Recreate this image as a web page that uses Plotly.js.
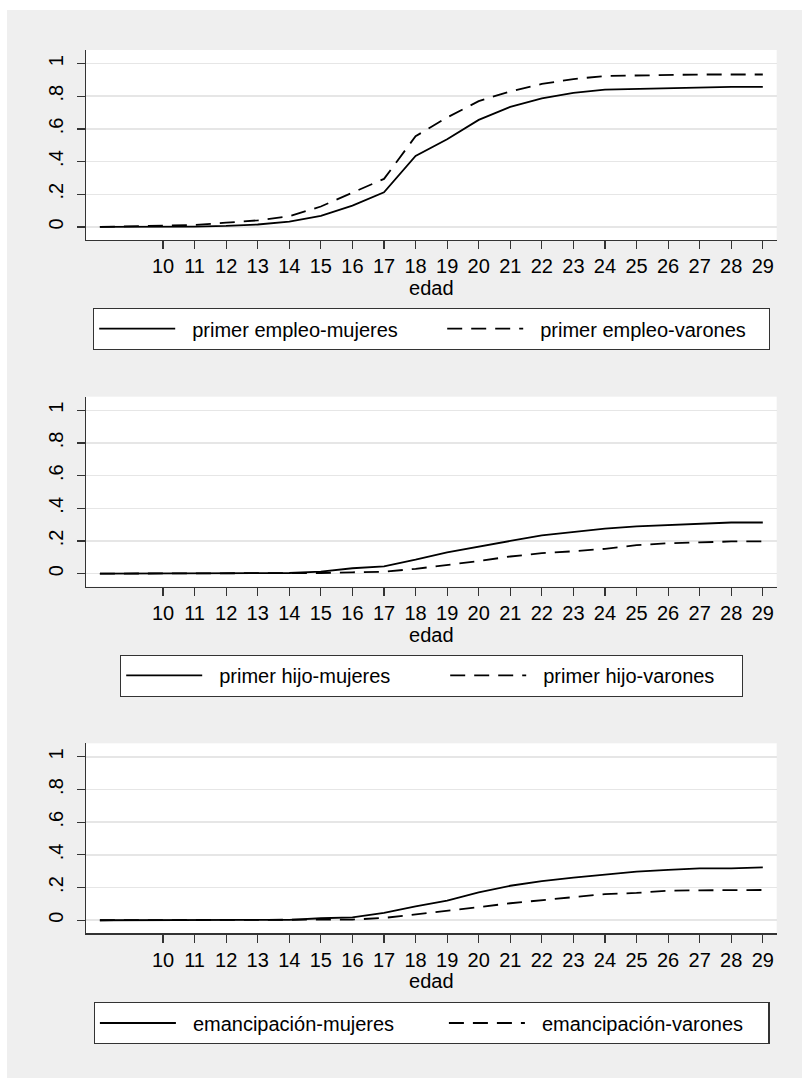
<!DOCTYPE html>
<html>
<head>
<meta charset="utf-8">
<script src="https://cdn.plot.ly/plotly-3.0.1.min.js"></script>
<style>
  html, body { margin: 0; padding: 0; background: #ffffff; }
  #chart { position: absolute; left: 7px; top: 10px; width: 795px; height: 1068px; }
</style>
</head>
<body>
<div id="chart"></div>
<script>
// ---- data ----
const edad = [8, 9, 10, 11, 12, 13, 14, 15, 16, 17, 18, 19, 20, 21, 22, 23, 24, 25, 26, 27, 28, 29];
const xTicks = [10, 11, 12, 13, 14, 15, 16, 17, 18, 19, 20, 21, 22, 23, 24, 25, 26, 27, 28, 29];
const yTickVals = [0, 0.2, 0.4, 0.6, 0.8, 1];
const yTickText = ["0", ".2", ".4", ".6", ".8", "1"];

const empleoMujeres = [0, 0, 0, 0.002, 0.006, 0.015, 0.033, 0.067, 0.13, 0.212, 0.435, 0.537, 0.655, 0.735, 0.787, 0.82, 0.841, 0.846, 0.848, 0.852, 0.857, 0.857];
const empleoVarones = [0, 0.004, 0.006, 0.012, 0.026, 0.04, 0.065, 0.125, 0.21, 0.294, 0.555, 0.67, 0.77, 0.83, 0.875, 0.905, 0.924, 0.927, 0.932, 0.933, 0.933, 0.933];
const hijoMujeres = [0, 0, 0, 0, 0, 0.001, 0.004, 0.012, 0.033, 0.045, 0.085, 0.13, 0.163, 0.2, 0.234, 0.256, 0.275, 0.289, 0.297, 0.304, 0.313, 0.313];
const hijoVarones = [0, 0, 0, 0, 0, 0, 0.001, 0.004, 0.008, 0.012, 0.029, 0.051, 0.077, 0.105, 0.125, 0.137, 0.152, 0.174, 0.186, 0.191, 0.197, 0.197];
const emanMujeres = [0, 0, 0, 0, 0, 0, 0.002, 0.012, 0.017, 0.045, 0.085, 0.12, 0.171, 0.211, 0.24, 0.261, 0.281, 0.297, 0.308, 0.318, 0.318, 0.324];
const emanVarones = [0, 0, 0, 0, 0, 0, 0, 0.002, 0.004, 0.014, 0.035, 0.056, 0.08, 0.104, 0.124, 0.141, 0.16, 0.167, 0.181, 0.183, 0.184, 0.185];

const names = [
  ["primer empleo-mujeres", "primer empleo-varones"],
  ["primer hijo-mujeres", "primer hijo-varones"],
  ["emancipación-mujeres", "emancipación-varones"]
];
const seriesList = [
  [empleoMujeres, empleoVarones],
  [hijoMujeres, hijoVarones],
  [emanMujeres, emanVarones]
];

// ---- styling ----
const FONT = "Arial, 'Liberation Sans', sans-serif";
const solid = { color: "#000000", width: 1.8, dash: "solid" };
const dashed = { color: "#000000", width: 1.8, dash: "15px,9px" };
// per-panel legend entry widths (px) for [first, second] entries
const entryWidths = [[245, 223], [221, 193], [246, 221]];

const traces = [];
seriesList.forEach((pair, i) => {
  const sfx = i === 0 ? "" : String(i + 1);
  pair.forEach((vals, j) => {
    traces.push({
      type: "scatter", mode: "lines",
      x: edad, y: vals,
      name: names[i][j],
      line: j === 0 ? solid : dashed,
      xaxis: "x" + sfx, yaxis: "y" + sfx,
      legend: "legend" + sfx,
      legendwidth: entryWidths[i][j],
      hoverinfo: "skip"
    });
  });
});

const W = 795, H = 1068;
const xDom = [79 / W, 769.7 / W];
const yDoms = [
  [1 - 230 / H, 1 - 40 / H],
  [1 - 576.7 / H, 1 - 386.7 / H],
  [1 - 923.3 / H, 1 - 733.3 / H]
];
const legendPos = [
  { x: 86 / W, y: 1 - 298 / H },
  { x: 113 / W, y: 1 - 644.7 / H },
  { x: 86.7 / W, y: 1 - 992.3 / H }
];

const layout = {
  width: W, height: H,
  margin: { l: 0, r: 0, t: 0, b: 0 },
  paper_bgcolor: "#efefef",
  plot_bgcolor: "#ffffff",
  font: { family: FONT, size: 20, color: "#000000" },
  showlegend: true
};

for (let i = 0; i < 3; i++) {
  const sfx = i === 0 ? "" : String(i + 1);
  layout["xaxis" + sfx] = {
    domain: xDom, anchor: "y" + sfx,
    range: [7.56, 29.44],
    tickmode: "array", tickvals: xTicks,
    ticks: "outside", ticklen: 8, tickwidth: 1.2, tickcolor: "#333333",
    showline: true, linecolor: "#333333", linewidth: 1.2,
    showgrid: false, zeroline: false,
    tickfont: { family: FONT, size: 20, color: "#000000" },
    title: { text: "edad", font: { family: FONT, size: 20, color: "#000000" }, standoff: 0 }
  };
  layout["yaxis" + sfx] = {
    domain: yDoms[i], anchor: "x" + sfx,
    range: [-0.08, 1.083],
    tickmode: "array", tickvals: yTickVals, ticktext: yTickText,
    tickangle: -90,
    ticklabelstandoff: 6,
    ticks: "outside", ticklen: 8, tickwidth: 1.2, tickcolor: "#333333",
    showline: true, linecolor: "#333333", linewidth: 1.2,
    showgrid: true, gridcolor: "#e6e6e6", gridwidth: 1.5,
    zeroline: false,
    tickfont: { family: FONT, size: 20, color: "#000000" }
  };
  layout["legend" + sfx] = {
    x: legendPos[i].x, y: legendPos[i].y,
    xanchor: "left", yanchor: "top",
    orientation: "h",
    bgcolor: "#ffffff", bordercolor: "#333333", borderwidth: 1.2,
    itemwidth: 88,
    font: { family: FONT, size: 20, color: "#000000" },
    itemclick: false, itemdoubleclick: false
  };
}

Plotly.newPlot("chart", traces, layout, { displayModeBar: false, staticPlot: true }).then(function () {
  // legend key samples: 76px long, leaving a gap before the label
  document.querySelectorAll("#chart .infolayer path.js-line").forEach(function (p) {
    p.setAttribute("d", "M5,0h76");
  });
});
</script>
</body>
</html>
